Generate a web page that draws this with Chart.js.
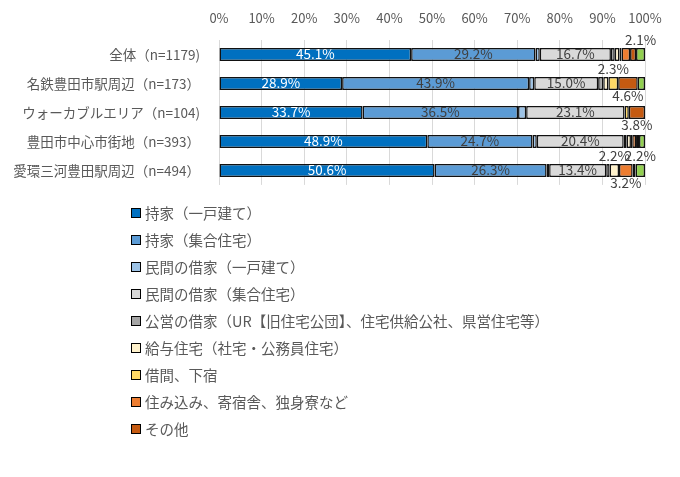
<!DOCTYPE html>
<html>
<head>
<meta charset="utf-8">
<script src="https://cdn.jsdelivr.net/npm/chart.js@4"></script>
<style>
    body { margin: 0; background: #fff; }
    #wrap { position: relative; width: 680px; height: 477px; }
    #box { position: absolute; left: 0; top: 0; width: 680px; height: 204px; }
    #legend { position: absolute; left: 131px; top: 199px; font-family: 'Noto Sans CJK JP', sans-serif; font-size: 14.5px; color: #595959; }
    #legend div { height: 27px; line-height: 20px; display: flex; align-items: center; }
    #legend span.sw { display: inline-block; width: 8px; height: 8px; border: 1px solid #000; margin-right: 4px; }
</style>
</head>
<body>
<div id="wrap">
    <div id="box"><canvas id="chart1"></canvas></div>
    <div id="legend"></div>
</div>
<script>
const categories = ['全体（n=1179)', '名鉄豊田市駅周辺（n=173）', 'ウォーカブルエリア（n=104)', '豊田市中心市街地（n=393）', '愛環三河豊田駅周辺（n=494）']
const xTicks = [0, 10, 20, 30, 40, 50, 60, 70, 80, 90, 100]

const ownDetached = [45.1, 28.9, 33.7, 48.9, 50.6]
const ownApartment = [29.2, 43.9, 36.5, 24.7, 26.3]
const rentDetached = [1.0, 1.2, 1.9, 1.0, 0.6]
const rentApartment = [16.7, 15.0, 23.1, 20.4, 13.4]
const publicRent = [0.9, 1.2, 0, 0.7, 0.8]
const companyHousing = [1.1, 1.2, 0, 1.0, 2.2]
const roomRent = [0.5, 2.3, 1.0, 0.3, 0]
const liveIn = [2.0, 0, 0, 0.9, 3.2]
const other = [1.4, 4.6, 3.8, 0.7, 0.7]
const noAnswer = [2.1, 1.7, 0, 1.4, 2.2]

Chart.defaults.font.family = "'Noto Sans CJK JP', sans-serif"
Chart.defaults.color = '#595959'

function set(label, data, color, side) {
    return {
        label, data,
        backgroundColor: color,
        borderColor: '#111',
        borderWidth: ctx => ctx.raw ? 1.5 : 0,
        borderSkipped: false,
        barPercentage: 0.45,
        categoryPercentage: 1,
        labelSide: side
    }
}

const datasets = [
    set('持家（一戸建て）', ownDetached, '#0070C0', 0),
    set('持家（集合住宅）', ownApartment, '#5B9BD5', 0),
    set('民間の借家（一戸建て）', rentDetached, '#9DC3E6', 0),
    set('民間の借家（集合住宅）', rentApartment, '#D9D9D9', 0),
    set('公営の借家（UR【旧住宅公団】、住宅供給公社、県営住宅等）', publicRent, '#A5A5A5', -1),
    set('給与住宅（社宅・公務員住宅）', companyHousing, '#FFF2CC', -1),
    set('借間、下宿', roomRent, '#FFD966', -1),
    set('住み込み、寄宿舎、独身寮など', liveIn, '#ED7D31', 1),
    set('その他', other, '#C55A11', 1),
    set('無回答', noAnswer, '#92D050', -1)
]

// percent labels: big ones inside, small ones above or below the bar
const barLabels = {
    id: 'barLabels',
    afterDatasetsDraw(chart) {
        const c = chart.ctx
        c.save()
        c.font = "13.5px 'Noto Sans CJK JP', sans-serif"
        c.textAlign = 'center'
        c.textBaseline = 'middle'
        chart.data.datasets.forEach((ds, i) => {
            chart.getDatasetMeta(i).data.forEach((bar, j) => {
                const v = ds.data[j]
                if (v < 2.05) return
                const x = (bar.x + bar.base) / 2
                if (v >= 10) {
                    c.fillStyle = i === 0 ? '#fff' : '#404040'
                    c.fillText(v.toFixed(1) + '%', x, bar.y - 1)
                } else {
                    c.fillStyle = '#404040'
                    c.fillText(v.toFixed(1) + '%', x, bar.y - 1 + ds.labelSide * (bar.height / 2 + 7))
                }
            })
        })
        c.restore()
    }
}

const options = {
    indexAxis: 'y',
    responsive: true,
    maintainAspectRatio: false,
    animation: false,
    layout: { padding: { right: 35, bottom: 8 } },
    plugins: {
        legend: { display: false },
        tooltip: { enabled: false }
    },
    scales: {
        x: {
            position: 'top',
            stacked: true,
            min: 0,
            max: 100,
            afterBuildTicks: s => { s.ticks = xTicks.map(v => ({ value: v })) },
            afterFit: s => { s.height = 40 },
            ticks: { callback: v => v + '%', font: { size: 13 }, padding: 14 },
            grid: { color: '#D9D9D9', drawTicks: false },
            border: { display: false }
        },
        y: {
            stacked: true,
            afterFit: s => { s.width = 219 },
            ticks: { font: { size: 13.5 }, padding: 11 },
            grid: { display: false },
            border: { color: '#D9D9D9' }
        }
    }
}

new Chart('chart1', { type: 'bar', data: { labels: categories, datasets }, options, plugins: [barLabels] })

const legend = document.getElementById('legend')
datasets.slice(0, 9).forEach(ds => {
    const row = document.createElement('div')
    row.innerHTML = '<span class="sw" style="background:' + ds.backgroundColor + '"></span>' + ds.label
    legend.appendChild(row)
})
</script>
</body>
</html>
